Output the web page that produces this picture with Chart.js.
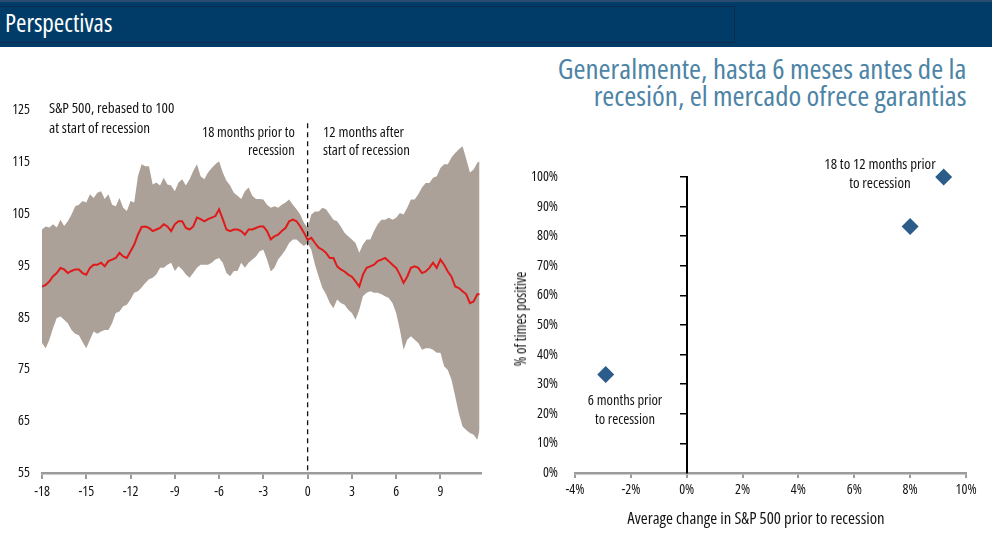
<!DOCTYPE html>
<html>
<head>
<meta charset="utf-8">
<title>Perspectivas</title>
<script src="https://cdn.jsdelivr.net/npm/chart.js@4.4.1/dist/chart.umd.min.js"></script>
<style>
  body { margin: 0; width: 992px; height: 549px; background: #fff; position: relative; overflow: hidden;
         font-family: "Open Sans", sans-serif; font-stretch: condensed; }
  canvas { position: absolute; }
  .txt { position: absolute; white-space: nowrap; color: #141414; font-size: 14px; font-weight: 500; }
  #hdr { position: absolute; left: 0; top: 0; width: 992px; height: 47px; background: #003c67; border-top: 2px solid #2b4b70; box-sizing: border-box; }
  #hdrBox { position: absolute; left: 0; top: 4px; width: 735px; height: 37px; border: 1px solid #0b2c4c; border-left: none; box-sizing: border-box; }
  #hdrText { left: 5px; top: 8.4px; font-size: 25.6px; line-height: 30px; color: #fff; font-weight: 400; transform-origin: left center; }
  #title { right: 26px; top: 54.7px; font-size: 28px; line-height: 27.5px; color: #4d84a6; font-weight: 400; text-align: right; transform-origin: right center; }
</style>
</head>
<body>
<div id="hdr"><div id="hdrBox"></div></div>
<div id="hdrText" class="txt" data-w="107">Perspectivas</div>
<div id="title" class="txt" data-w="408">Generalmente, hasta 6 meses antes de la<br>recesión, el mercado ofrece garantias</div>

<canvas id="band" width="495" height="430" style="left:0;top:90px"></canvas>
<canvas id="scatter" width="492" height="380" style="left:500px;top:140px"></canvas>

<div class="txt" data-w="125" style="left:49px;top:98.2px;line-height:19.4px;transform-origin:left center">S&amp;P 500, rebased to 100<br>at start of recession</div>
<div class="txt" data-w="93" style="right:697px;top:123.1px;line-height:18.3px;text-align:right;transform-origin:right center">18 months prior to<br>recession</div>
<div class="txt" data-w="87" style="left:323px;top:123.1px;line-height:18.3px;transform-origin:left center">12 months after<br>start of recession</div>

<div class="txt" data-w="111" data-pre="translateX(-50%)" style="left:880px;top:155.4px;line-height:18.3px;text-align:center">18 to 12 months prior<br>to recession</div>
<div class="txt" data-w="74" data-pre="translateX(-50%)" style="left:625px;top:390px;line-height:19px;text-align:center">6 months prior<br>to recession</div>

<div class="txt" data-w="257" data-pre="translateX(-50%)" style="left:756px;top:508.4px;font-size:17px;line-height:20px">Average change in S&amp;P 500 prior to recession</div>
<div class="txt" data-w="95" data-pre="translate(-50%,-50%) rotate(-90deg)" style="left:520px;top:319px;font-size:16.5px;line-height:18px">% of times positive</div>

<script>
// months relative to start of recession (x grid of the left chart)
const months = [-18, -17.75, -17.5, -17.25, -17, -16.75, -16.5, -16.25, -16, -15.75,
  -15.5, -15.25, -15, -14.75, -14.5, -14.25, -14, -13.75, -13.5, -13.25,
  -13, -12.75, -12.5, -12.25, -12, -11.75, -11.5, -11.25, -11, -10.75,
  -10.5, -10.25, -10, -9.75, -9.5, -9.25, -9, -8.75, -8.5, -8.25,
  -8, -7.75, -7.5, -7.25, -7, -6.75, -6.5, -6.25, -6, -5.75,
  -5.5, -5.25, -5, -4.75, -4.5, -4.25, -4, -3.75, -3.5, -3.25,
  -3, -2.75, -2.5, -2.25, -2, -1.75, -1.5, -1.25, -1, -0.75,
  -0.5, -0.25, 0, 0.25, 0.5, 0.75, 1, 1.25, 1.5, 1.75,
  2, 2.25, 2.5, 2.75, 3, 3.25, 3.5, 3.75, 4, 4.25,
  4.5, 4.75, 5, 5.25, 5.5, 5.75, 6, 6.25, 6.5, 6.75,
  7, 7.25, 7.5, 7.75, 8, 8.25, 8.5, 8.75, 9, 9.25,
  9.5, 9.75, 10, 10.25, 10.5, 10.75, 11, 11.25, 11.5, 11.65];

// top of the shaded range
const upper = [102.0, 102.6, 102.4, 103.0, 102.4, 103.9, 102.7, 103.6, 104.9, 106.5,
  106.8, 107.5, 107.2, 108.8, 108.1, 109.1, 109.4, 107.9, 108.8, 106.8,
  106.5, 108.1, 106.2, 105.6, 107.5, 107.2, 112.3, 114.6, 114.2, 114.2,
  110.7, 111.1, 110.5, 112.0, 110.7, 110.5, 109.4, 111.1, 111.7, 110.5,
  111.7, 113.3, 114.6, 112.3, 111.7, 113.0, 113.9, 114.6, 115.2, 113.0,
  111.4, 110.5, 109.1, 108.5, 107.9, 109.4, 110.1, 108.5, 107.9, 107.9,
  107.8, 106.8, 106.2, 106.5, 106.2, 106.8, 107.2, 107.8, 106.8, 105.9,
  104.9, 103.3, 102.3, 104.9, 105.5, 105.5, 106.2, 105.9, 104.9, 103.9,
  103.6, 102.6, 101.4, 100.7, 100.1, 99.4, 97.5, 99.1, 100.1, 100.1,
  101.7, 103.0, 103.9, 103.9, 104.3, 103.9, 104.3, 105.2, 104.9, 106.2,
  107.8, 107.8, 108.8, 110.1, 111.0, 111.0, 112.0, 112.3, 113.9, 114.6,
  114.6, 115.9, 116.8, 117.5, 118.1, 115.6, 113.0, 113.6, 114.9, 115.2];

// bottom of the shaded range
const lower = [80.1, 79.1, 80.7, 83.0, 84.9, 85.2, 84.6, 83.9, 82.6, 81.9,
  81.6, 80.3, 79.1, 80.7, 82.3, 81.9, 82.3, 82.6, 82.6, 83.9,
  85.9, 86.2, 87.2, 87.5, 88.5, 89.8, 90.1, 90.8, 91.7, 92.4,
  92.7, 93.3, 94.6, 94.6, 95.2, 95.6, 94.0, 94.9, 94.3, 93.3,
  92.7, 93.6, 94.6, 95.2, 95.2, 95.2, 95.6, 96.2, 96.5, 95.6,
  93.6, 93.0, 94.0, 94.0, 95.6, 94.6, 95.6, 96.2, 96.8, 97.8,
  98.1, 96.2, 93.9, 94.6, 96.2, 97.1, 98.1, 99.4, 100.1, 100.1,
  99.4, 98.8, 99.4, 98.1, 95.2, 92.9, 90.7, 89.5, 87.8, 86.8,
  88.5, 87.8, 87.5, 86.5, 85.9, 84.6, 86.5, 89.1, 89.8, 90.1,
  89.8, 89.8, 89.5, 89.1, 88.8, 87.8, 85.9, 82.7, 78.8, 80.7,
  81.4, 80.7, 80.1, 78.8, 79.1, 79.1, 78.8, 78.2, 78.2, 75.6,
  74.9, 73.0, 69.8, 66.5, 64.0, 63.3, 62.7, 62.4, 61.4, 63.3];

// red line
const median = [91.0, 91.3, 92.0, 93.0, 93.6, 94.6, 94.3, 93.6, 94.0, 94.3,
  94.3, 93.6, 93.3, 94.6, 95.2, 95.2, 95.6, 94.9, 95.9, 96.2,
  96.5, 97.5, 96.8, 96.5, 97.8, 99.1, 101.0, 102.5, 102.6, 102.3,
  101.7, 102.0, 102.3, 103.0, 102.6, 101.7, 103.0, 103.6, 103.6, 102.3,
  102.0, 102.6, 104.3, 104.0, 103.6, 104.0, 104.3, 104.6, 105.9, 104.0,
  102.0, 101.7, 102.0, 102.0, 101.7, 101.0, 102.0, 102.0, 102.3, 102.6,
  102.6, 101.7, 100.1, 100.7, 101.0, 101.7, 102.3, 103.6, 103.9, 103.6,
  102.6, 101.4, 100.0, 100.4, 99.4, 98.5, 98.1, 97.5, 96.5, 96.5,
  94.9, 94.3, 93.9, 93.3, 92.9, 92.0, 91.0, 93.3, 94.6, 94.9,
  95.2, 95.9, 96.2, 96.5, 95.9, 95.2, 94.6, 93.3, 91.7, 92.9,
  94.6, 94.9, 94.6, 93.6, 93.9, 94.6, 95.6, 94.6, 96.2, 95.2,
  93.9, 92.9, 91.0, 90.7, 90.1, 89.5, 87.8, 88.1, 89.5, 89.5];

// dashed marker at recession start
const startLine = [0, 0];
const startLineY = [122.5, 55];

// right chart: average change vs share of times positive
const periods = ['6 months prior', '12 to 6 months prior', '18 to 12 months prior'];
const avgChange = [-2.9, 8.0, 9.2];
const pctPositive = [33.3, 83.3, 100];

// weight field carries the stretch keyword so the canvas font string becomes "500 condensed 14px ..."
const tickFont = { family: '"Open Sans", sans-serif', size: 14, weight: '500 condensed' };

function toPoints(xs, ys) {
  return xs.map(function (x, i) { return { x: x, y: ys[i] }; });
}

// left chart
new Chart(document.getElementById('band'), {
  type: 'line',
  data: {
    datasets: [
      { label: 'upper', data: toPoints(months, upper), borderWidth: 0, pointRadius: 0, fill: '+1', backgroundColor: '#aca198', order: 3 },
      { label: 'lower', data: toPoints(months, lower), borderWidth: 0, pointRadius: 0, fill: false, order: 3 },
      { label: 'start', data: toPoints(startLine, startLineY), borderColor: '#111', borderWidth: 1.3, borderDash: [5, 4], pointRadius: 0, fill: false, order: 1 },
      { label: 'median', data: toPoints(months, median), borderColor: '#e01a1a', borderWidth: 2, pointRadius: 0, fill: false, order: 0 }
    ]
  },
  options: {
    responsive: false,
    animation: false,
    layout: { padding: { left: 0, top: 18, right: 14, bottom: 17 } },
    plugins: { legend: { display: false }, tooltip: { enabled: false } },
    scales: {
      x: {
        type: 'linear', min: -18, max: 11.75,
        afterFit: function (s) { s.height = 30; },
        ticks: { stepSize: 3, includeBounds: false, autoSkip: false, maxRotation: 0, padding: 5, color: '#141414', font: tickFont },
        grid: { drawOnChartArea: false, drawTicks: true, tickLength: 6, color: '#9b9b9b', lineWidth: 2 },
        border: { display: true, color: '#9b9b9b', width: 2.5 }
      },
      y: {
        min: 55, max: 125,
        afterFit: function (s) { s.width = 42; },
        ticks: { stepSize: 10, padding: 12, color: '#141414', font: tickFont },
        grid: { display: false, drawTicks: false },
        border: { display: false }
      }
    }
  }
});

// right chart
new Chart(document.getElementById('scatter'), {
  type: 'scatter',
  data: {
    datasets: [{
      label: 'periods',
      data: toPoints(avgChange, pctPositive),
      pointStyle: 'rectRot', pointRadius: 8.5, backgroundColor: '#2c5d8a', borderWidth: 0, clip: false
    }]
  },
  options: {
    responsive: false,
    animation: false,
    layout: { padding: { left: 0, top: 37, right: 26, bottom: 17 } },
    plugins: { legend: { display: false }, tooltip: { enabled: false } },
    scales: {
      x: {
        type: 'linear', min: -4, max: 10,
        afterFit: function (s) { s.height = 30; },
        ticks: { stepSize: 2, autoSkip: false, maxRotation: 0, padding: 4, color: '#141414', font: tickFont,
                 callback: function (v) { return v + '%'; } },
        grid: { drawOnChartArea: false, drawTicks: true, tickLength: 5, color: '#9b9b9b', lineWidth: 2 },
        border: { display: true, color: '#9b9b9b', width: 2.5 }
      },
      y: {
        min: 0, max: 100,
        afterFit: function (s) { s.width = 75; },
        ticks: { stepSize: 10, padding: 17, color: '#141414', font: tickFont,
                 callback: function (v) { return v + '%'; } },
        grid: { display: false, drawTicks: false },
        border: { display: false }
      },
      y2: {
        axis: 'y', position: { x: 0 }, min: 0, max: 100,
        ticks: { display: false, stepSize: 10 },
        grid: { drawOnChartArea: false, drawTicks: true, tickLength: 6, color: '#000', lineWidth: 1.5 },
        border: { display: true, color: '#000', width: 2 }
      }
    }
  }
});

// squeeze each text block to the width it has in the picture
function fitTexts() {
  document.querySelectorAll('[data-w]').forEach(function (el) {
    el.style.transform = el.dataset.pre || '';
    const w = el.offsetWidth;
    el.style.transform = (el.dataset.pre || '') + ' scaleX(' + (+el.dataset.w / w).toFixed(3) + ')';
  });
}
fitTexts();
if (document.fonts) document.fonts.ready.then(fitTexts);
</script>
</body>
</html>
